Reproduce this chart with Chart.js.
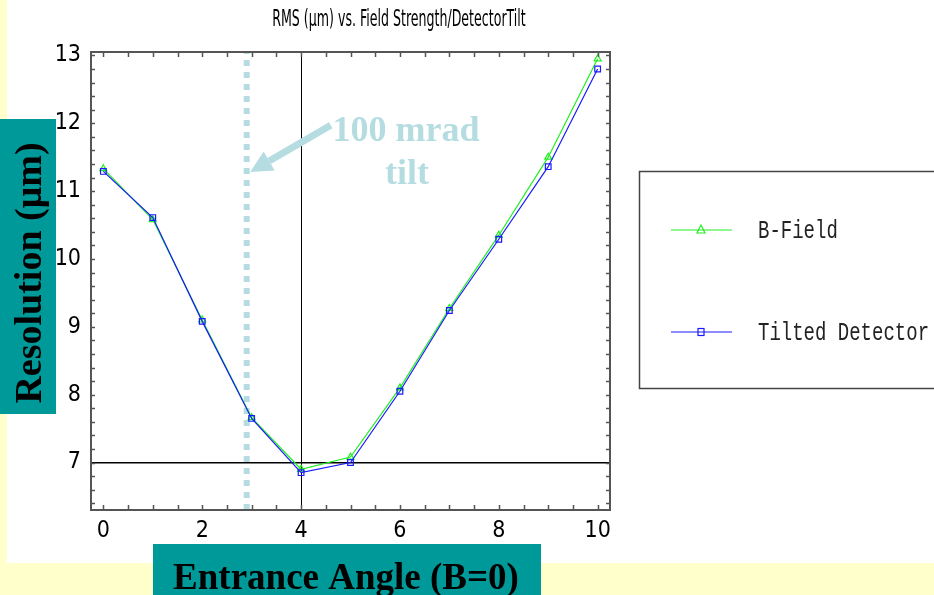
<!DOCTYPE html>
<html>
<head>
<meta charset="utf-8">
<script src="https://cdn.jsdelivr.net/npm/chart.js@4.4.1/dist/chart.umd.min.js"></script>
<style>
  html, body { margin: 0; padding: 0; background: #ffffcc; }
  #wrap { position: absolute; left: 0; top: 0; width: 934px; height: 595px; }
</style>
</head>
<body>
<div id="wrap"><canvas id="chart" width="934" height="595"></canvas></div>
<script>
'use strict';

// ── données ────────────────────────────────────────────────
var angles = [0, 1, 2, 3, 4, 5, 6, 7, 8, 9, 10];
var bField = [11.33, 10.58, 9.1, 7.66, 6.9, 7.08, 8.1, 9.27, 10.35, 11.5, 12.95];
var tilted = [11.29, 10.61, 9.08, 7.65, 6.85, 7.0, 8.05, 9.24, 10.29, 11.36, 12.8];
var xTicks = [0, 2, 4, 6, 8, 10];
var yTicks = [7, 8, 9, 10, 11, 12, 13];
var tiltX = 2.9;
var arrowFrom = { x: 4.6, y: 11.97 };
var arrowTo = { x: 2.97, y: 11.28 };

var COLORS = {
    yellow: '#ffffcc',
    teal: '#009999',
    tilt: '#b5dde1',
    green: '#22ee22',
    blue: '#1a1aff',
    axis: '#555555'
};

var NARROW = '"DejaVu Sans Condensed", "Liberation Sans Narrow", "DejaVu Sans", sans-serif';
var SERIF = '"Liberation Serif", "DejaVu Serif", serif';
var MONO = '"Liberation Mono", "DejaVu Sans Mono", monospace';

function toPts(ys) {
    return ys.map(function(v, i) { return { x: angles[i], y: v }; });
}

// texte étiré verticalement (polices "hautes" de l'original)
function tallText(c, txt, x, y, sy) {
    c.save();
    c.translate(x, y);
    c.scale(1, sy);
    c.fillText(txt, 0, 0);
    c.restore();
}

var decorPlugin = {
    id: 'decor',
    beforeDraw: function(chart) {
        var c = chart.ctx;
        c.save();
        c.fillStyle = COLORS.yellow;
        c.fillRect(0, 0, 934, 595);
        c.fillStyle = '#ffffff';
        c.fillRect(7, 0, 927, 563);
        c.restore();
    },
    afterDraw: function(chart) {
        var c = chart.ctx;
        var a = chart.chartArea;
        var xs = chart.scales.x, ys = chart.scales.y;
        c.save();

        // cadre + graduations vers l'intérieur
        c.strokeStyle = COLORS.axis;
        c.lineWidth = 2;
        c.strokeRect(a.left, a.top, a.right - a.left, a.bottom - a.top);
        c.lineWidth = 1.5;
        c.beginPath();
        var v, p;
        for (v = 0; v <= 10.001; v += 0.5) {
            p = Math.round(xs.getPixelForValue(v)) + 0.5;
            c.moveTo(p, a.bottom); c.lineTo(p, a.bottom - 5);
            c.moveTo(p, a.top); c.lineTo(p, a.top + 5);
        }
        for (v = 6.4; v <= 13.001; v += 0.2) {
            p = Math.round(ys.getPixelForValue(v)) + 0.5;
            c.moveTo(a.left, p); c.lineTo(a.left + 4, p);
            c.moveTo(a.right, p); c.lineTo(a.right - 4, p);
        }
        c.stroke();

        // titre
        c.fillStyle = '#000';
        c.font = 'condensed 14px ' + NARROW;
        c.textAlign = 'center';
        c.textBaseline = 'alphabetic';
        tallText(c, 'RMS (\u03bcm) vs. Field Strength/DetectorTilt', 399, 26, 1.6);

        // flèche "100 mrad tilt"
        var x1 = xs.getPixelForValue(arrowFrom.x), y1 = ys.getPixelForValue(arrowFrom.y);
        var x2 = xs.getPixelForValue(arrowTo.x), y2 = ys.getPixelForValue(arrowTo.y);
        var ang = Math.atan2(y2 - y1, x2 - x1);
        var hx = x2 - 22 * Math.cos(ang), hy = y2 - 22 * Math.sin(ang);
        c.strokeStyle = COLORS.tilt;
        c.fillStyle = COLORS.tilt;
        c.lineWidth = 7;
        c.beginPath();
        c.moveTo(x1, y1); c.lineTo(hx, hy);
        c.stroke();
        c.beginPath();
        c.moveTo(x2, y2);
        c.lineTo(hx + 11 * Math.sin(ang), hy - 11 * Math.cos(ang));
        c.lineTo(hx - 11 * Math.sin(ang), hy + 11 * Math.cos(ang));
        c.closePath();
        c.fill();
        c.font = 'bold 36px ' + SERIF;
        c.textAlign = 'center';
        c.fillText('100 mrad', 406, 141);
        c.fillText('tilt', 407, 184);

        // légende
        c.fillStyle = '#fff';
        c.fillRect(639, 171, 300, 218);
        c.strokeStyle = '#444';
        c.lineWidth = 1.5;
        c.strokeRect(639.5, 171.5, 300, 217);
        c.lineWidth = 1.2;
        c.strokeStyle = COLORS.green;
        c.beginPath(); c.moveTo(671, 230); c.lineTo(732, 230); c.stroke();
        c.beginPath(); c.moveTo(701, 225); c.lineTo(705, 233); c.lineTo(697, 233); c.closePath(); c.stroke();
        c.strokeStyle = COLORS.blue;
        c.beginPath(); c.moveTo(671, 332); c.lineTo(732, 332); c.stroke();
        c.strokeRect(698, 328.5, 6, 7);
        c.fillStyle = '#222';
        c.font = '19px ' + MONO;
        c.textAlign = 'left';
        c.textBaseline = 'alphabetic';
        tallText(c, 'B-Field', 758, 238, 1.35);
        tallText(c, 'Tilted Detector', 758, 340, 1.35);

        // boîtes d'axes
        c.fillStyle = COLORS.teal;
        c.fillRect(0, 119, 56, 295);
        c.fillRect(153, 544, 388, 51);
        c.fillStyle = '#000';
        c.font = 'bold 37px ' + SERIF;
        c.textAlign = 'center';
        c.textBaseline = 'alphabetic';
        c.fillText('Entrance Angle (B=0)', 346, 589);
        c.translate(41, 273);
        c.rotate(-Math.PI / 2);
        c.font = 'bold 38px ' + SERIF;
        c.fillText('Resolution (\u03bcm)', 0, 0);
        c.restore();
    }
};

new Chart(document.getElementById('chart'), {
    type: 'line',
    data: {
        datasets: [
            {
                label: 'tilt',
                data: [{ x: tiltX, y: 6.3 }, { x: tiltX, y: 13.05 }],
                borderColor: COLORS.tilt,
                borderWidth: 6,
                borderDash: [6, 6],
                pointRadius: 0,
                order: 3
            },
            {
                label: 'B-Field',
                data: toPts(bField),
                borderColor: COLORS.green,
                borderWidth: 1.2,
                pointStyle: 'triangle',
                pointRadius: 4,
                pointBorderWidth: 1.2,
                pointBackgroundColor: 'rgba(0,0,0,0)',
                pointBorderColor: COLORS.green,
                order: 2
            },
            {
                label: 'Tilted Detector',
                data: toPts(tilted),
                borderColor: COLORS.blue,
                borderWidth: 1.2,
                pointStyle: 'rect',
                pointRadius: 4,
                pointBorderWidth: 1.2,
                pointBackgroundColor: 'rgba(0,0,0,0)',
                pointBorderColor: COLORS.blue,
                order: 1
            }
        ]
    },
    options: {
        responsive: false,
        animation: false,
        devicePixelRatio: 1,
        layout: { padding: { left: 0, top: 52, right: 324, bottom: 0 } },
        plugins: {
            legend: { display: false },
            title: { display: false },
            tooltip: { enabled: false }
        },
        scales: {
            x: {
                type: 'linear',
                min: -0.25,
                max: 10.25,
                border: { display: false },
                afterFit: function(s) { s.height = 85; },
                afterBuildTicks: function(s) {
                    s.ticks = xTicks.map(function(v) { return { value: v }; });
                },
                grid: {
                    drawTicks: false,
                    color: function(ctx) { return ctx.tick && ctx.tick.value === 4 ? '#000' : 'rgba(0,0,0,0)'; },
                    lineWidth: 1
                },
                ticks: {
                    padding: 7,
                    color: '#000',
                    font: { family: NARROW, size: 23, style: 'condensed' }
                }
            },
            y: {
                type: 'linear',
                min: 6.3,
                max: 13.05,
                border: { display: false },
                afterFit: function(s) { s.width = 91; },
                afterBuildTicks: function(s) {
                    s.ticks = yTicks.map(function(v) { return { value: v }; });
                },
                grid: {
                    drawTicks: false,
                    color: function(ctx) { return ctx.tick && ctx.tick.value === 7 ? '#000' : 'rgba(0,0,0,0)'; },
                    lineWidth: 1.5
                },
                ticks: {
                    padding: 10,
                    color: '#000',
                    font: { family: NARROW, size: 23, style: 'condensed' }
                }
            }
        }
    },
    plugins: [decorPlugin]
});
</script>
</body>
</html>
